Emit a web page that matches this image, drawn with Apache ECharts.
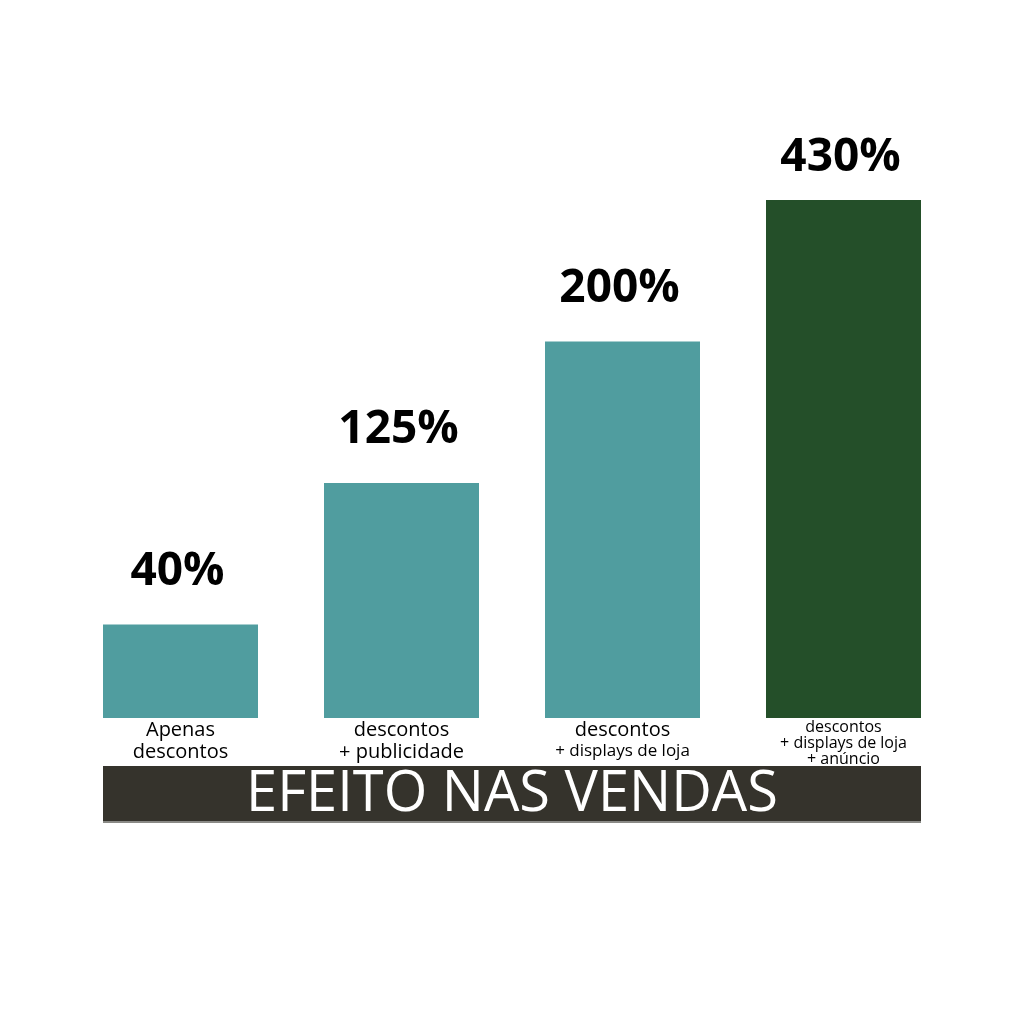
<!DOCTYPE html>
<html>
<head>
<meta charset="utf-8">
<script src="https://cdn.jsdelivr.net/npm/echarts@6/dist/echarts.min.js"></script>
<style>html,body{margin:0;padding:0;background:#fff;}#c{width:1024px;height:1024px;}</style>
</head>
<body>
<div id="c"></div>
<script>
const categories = ['Apenas\ndescontos', 'descontos\n+ publicidade', 'descontos\n+ displays de loja', 'descontos\n+ displays de loja\n+ anúncio'];
const salesEffect = [40, 125, 200, 430];
const barLevels = [0.66, 1.66, 2.66, 3.66];
const barColors = ['#509d9f', '#509d9f', '#509d9f', '#244f29'];
const titleText = 'EFEITO NAS VENDAS';

const chart = echarts.init(document.getElementById('c'), null, {renderer: 'canvas'});
chart.setOption({
  backgroundColor: '#ffffff',
  animation: false,
  grid: {left: 70, right: 70, top: 200, bottom: 306},
  xAxis: {
    type: 'category',
    data: categories,
    axisLine: {show: false},
    axisTick: {show: false},
    axisLabel: {
      margin: 1,
      interval: 0,
      formatter: function (v, i) {
        const lines = v.split('\n');
        if (i <= 1) return lines.map(l => '{a|' + l + '}').join('\n');
        if (i === 2) return '{a|' + lines[0] + '}\n' + lines.slice(1).map(l => '{b|' + l + '}').join('\n');
        return lines.map(l => '{c|' + l + '}').join('\n');
      },
      rich: {
        a: {fontFamily: 'Open Sans', fontSize: 20, lineHeight: 22, color: '#000'},
        b: {fontFamily: 'Open Sans', fontSize: 17, lineHeight: 20, color: '#000'},
        c: {fontFamily: 'Open Sans', fontSize: 16, lineHeight: 16, color: '#000'}
      }
    }
  },
  yAxis: {type: 'value', min: 0, max: 3.66, show: false, splitLine: {show: false}},
  series: [{
    type: 'bar',
    barWidth: 155,
    data: barLevels.map((v, i) => ({
      value: v,
      itemStyle: {color: barColors[i]},
      label: i === 3 ? {distance: 19} : {}
    })),
    label: {
      show: true,
      position: 'top',
      distance: 30,
      offset: [-3, 0],
      formatter: p => salesEffect[p.dataIndex] + '%',
      fontFamily: 'Open Sans',
      fontWeight: 'bold',
      fontSize: 46,
      color: '#000'
    }
  }],
  graphic: [
    {type: 'rect', left: 103, top: 766, shape: {width: 818, height: 56}, style: {fill: '#35332c'}},
    {type: 'rect', left: 103, top: 821, shape: {width: 818, height: 2}, style: {fill: '#8a8a86'}},
    {type: 'text', x: 512, y: 795, style: {text: titleText, fill: '#ffffff', fontFamily: 'Open Sans', fontWeight: 'normal', fontSize: 56, textAlign: 'center', textVerticalAlign: 'middle'}}
  ]
});
</script>
</body>
</html>
